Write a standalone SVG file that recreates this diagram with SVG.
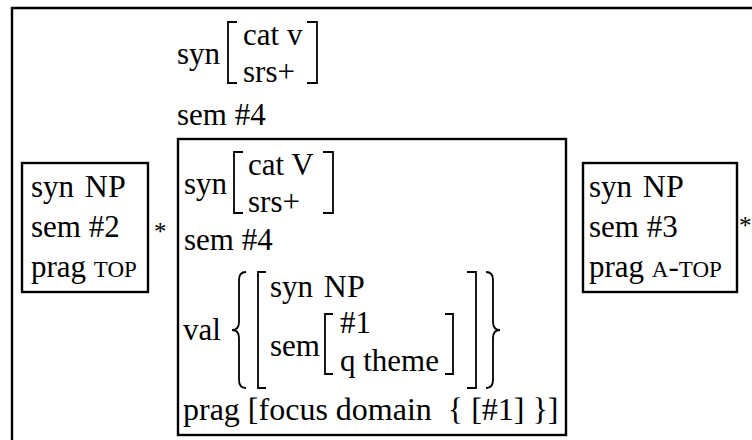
<svg xmlns="http://www.w3.org/2000/svg" width="752" height="440" viewBox="0 0 752 440">
<style>
.t{font-family:"Liberation Serif","Times New Roman",serif;font-size:31px;fill:#000;white-space:pre}
.sc{font-size:23px}
.ast{font-size:25px}
.big{font-size:32px}
.box{fill:none;stroke:#000;stroke-width:2.4}
.br{fill:none;stroke:#000;stroke-width:1.8}
</style>
<rect width="752" height="440" fill="#fff"/>
<g id="frame"><path class="box" d="M12,445 V8 H760"/></g>
<g id="mother">
<text class="t" x="177" y="64">syn</text>
<path class="br" d="M237,22 H228 V83 H237"/>
<text class="t" x="243" y="45">cat v</text>
<text class="t" x="243" y="82">srs+</text>
<path class="br" d="M307,22 H317 V83 H307"/>
<text class="t" x="177" y="125">sem #4</text>
</g>
<g id="left">
<rect class="box" x="22" y="163" width="126" height="129"/>
<text class="t" x="31" y="197">syn <tspan dx="3" class="big">NP</tspan></text>
<text class="t" x="31" y="237">sem #2</text>
<text class="t" x="31" y="277">prag <tspan class="sc">TOP</tspan></text>
<text class="t ast" x="154" y="240">*</text>
</g>
<g id="head">
<rect class="box" x="178" y="139" width="388" height="296"/>
<text class="t" x="184" y="194">syn</text>
<path class="br" d="M243,152 H234 V213 H243"/>
<text class="t" x="248" y="175">cat V</text>
<text class="t" x="248" y="212">srs+</text>
<path class="br" d="M323,152 H333 V213 H323"/>
<text class="t" x="184" y="250">sem #4</text>
<text class="t" x="183" y="340">val</text>
<path class="br" d="M246,272 Q239,272 239,280 V322 Q239,330 232,330 Q239,330 239,338 V380 Q239,388 246,388"/>
<path class="br" d="M266,272 H258 V388 H266"/>
<text class="t" x="270" y="297">syn <tspan dx="3" class="big">NP</tspan></text>
<text class="t" x="270" y="356">sem</text>
<path class="br" d="M333,314 H325 V374 H333"/>
<text class="t" x="340" y="333">#1</text>
<text class="t" x="340" y="371">q theme</text>
<path class="br" d="M445,314 H453 V374 H445"/>
<path class="br" d="M467,272 H476 V388 H467"/>
<path class="br" d="M486,272 Q493,272 493,280 V322 Q493,330 500,330 Q493,330 493,338 V380 Q493,388 486,388"/>
<text class="t big" x="183" y="420">prag [focus domain  { [#1] }]</text>
</g>
<g id="right">
<rect class="box" x="583" y="163" width="154" height="129"/>
<text class="t" x="589" y="197">syn <tspan dx="3" class="big">NP</tspan></text>
<text class="t" x="589" y="237">sem #3</text>
<text class="t" x="589" y="277">prag <tspan class="sc">A</tspan>-<tspan class="sc">TOP</tspan></text>
<text class="t ast" x="739" y="234">*</text>
</g>
</svg>
